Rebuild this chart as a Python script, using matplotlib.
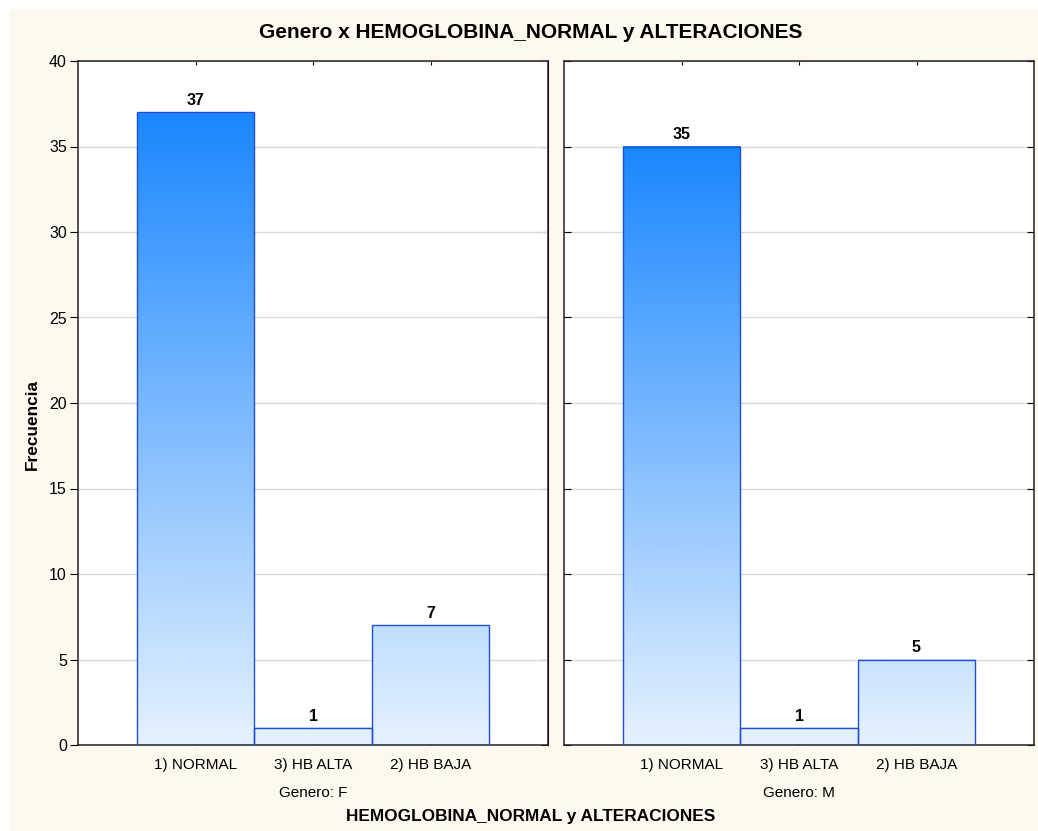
import numpy as np
import matplotlib
matplotlib.use("Agg")
import matplotlib.pyplot as plt
from matplotlib.colors import LinearSegmentedColormap
from matplotlib.patches import Rectangle

plt.rcParams['font.family'] = ['Liberation Sans', 'DejaVu Sans']

categorias = ["1) NORMAL", "3) HB ALTA", "2) HB BAJA"]
generos = ["F", "M"]
frec_F = [37, 1, 7]
frec_M = [35, 1, 5]
yticks = [0, 5, 10, 15, 20, 25, 30, 35, 40]

crema = "#fdf9ee"
borde = "#1f4fd6"
cmap = LinearSegmentedColormap.from_list("grad", ["#e6f2fe", "#80bcfe", "#1a87ff"])

fig = plt.figure(figsize=(10.38, 8.31), dpi=100, facecolor="white")
fig.patches.append(Rectangle((9 / 1038, 0), 1, 1 - 9 / 831, transform=fig.transFigure,
                             facecolor=crema, edgecolor="none", zorder=-10))

ax1 = fig.add_axes([78 / 1038, 86 / 831, 470 / 1038, 684 / 831])
ax2 = fig.add_axes([564 / 1038, 86 / 831, 470 / 1038, 684 / 831])


def dibujar(ax, valores, genero, primero):
    x = np.arange(len(categorias))
    vmax = max(valores)
    for xi, v in zip(x, valores):
        grad = np.linspace(0, v / vmax, 256).reshape(-1, 1)
        ax.imshow(grad, cmap=cmap, vmin=0, vmax=1, origin="lower", aspect="auto",
                  extent=[xi - 0.5, xi + 0.5, 0, v], zorder=2, interpolation="bilinear")
        ax.text(xi, v + 0.25, str(v), ha="center", va="bottom", fontsize=11.5,
                fontweight="bold", zorder=4)
    ax.bar(x, valores, width=1.0, fill=False, edgecolor=borde, linewidth=1.0, zorder=3)

    ax.set_xlim(-1, 3)
    ax.set_ylim(0, 40)
    ax.set_yticks(yticks)
    ax.set_xticks(x)
    ax.set_xticklabels(categorias, fontsize=11)
    ax.grid(axis="y", color="#d9d9d9", linewidth=1, zorder=0)
    ax.set_axisbelow(True)
    for s in ax.spines.values():
        s.set_color("#222222")
        s.set_linewidth(1.1)

    ax.tick_params(axis="x", direction="in", top=True, bottom=True, length=3, pad=9)
    if primero:
        ax.tick_params(axis="y", direction="out", left=True, right=False, length=6,
                       pad=2, labelsize=11.5)
        sec = ax.secondary_yaxis("right")
        sec.set_yticks(yticks)
        sec.tick_params(direction="in", length=5, labelright=False)
    else:
        ax.tick_params(axis="y", direction="in", left=True, right=True, length=5,
                       labelleft=False)

    ax.text(0.5, -0.07, "Genero: " + genero, transform=ax.transAxes, ha="center",
            va="center", fontsize=11)


dibujar(ax1, frec_F, generos[0], True)
dibujar(ax2, frec_M, generos[1], False)

fig.text(531 / 1038, 1 - 33 / 831, "Genero x HEMOGLOBINA_NORMAL y ALTERACIONES",
         ha="center", va="center", fontsize=15, fontweight="bold")
fig.text(531 / 1038, 1 - 817 / 831, "HEMOGLOBINA_NORMAL y ALTERACIONES",
         ha="center", va="center", fontsize=12.4, fontweight="bold")
fig.text(32 / 1038, 1 - 424 / 831, "Frecuencia", rotation=90, ha="center",
         va="center", fontsize=12.4, fontweight="bold")

fig.savefig("out.png", dpi=100, facecolor=fig.get_facecolor())
